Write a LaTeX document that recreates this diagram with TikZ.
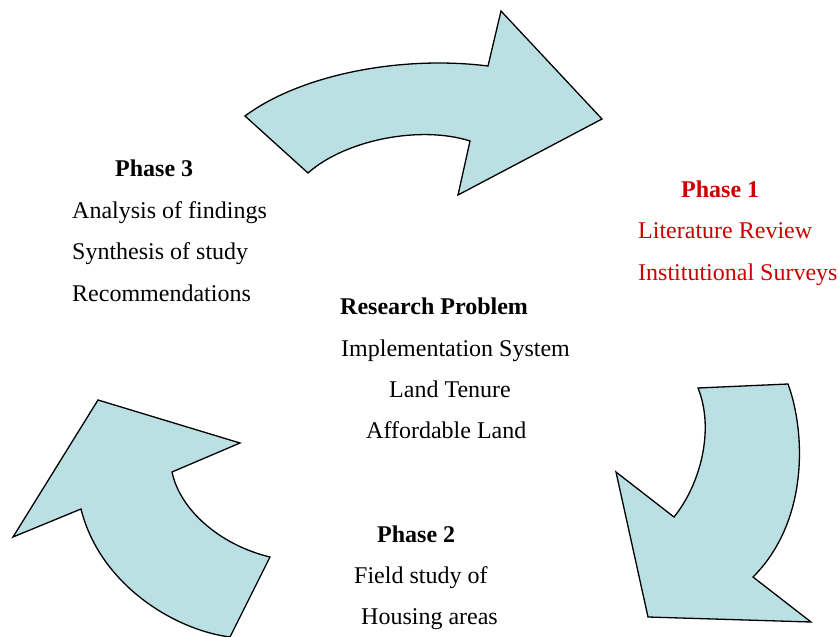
\documentclass[tikz,border=0pt]{standalone}
\usepackage{fontspec}
\setmainfont{Liberation Serif}
\begin{document}
\begin{tikzpicture}[x=1pt,y=-1pt,
  bigarrow/.style={draw=black,fill=arrowfill,line width=1.3pt,line join=miter},
  txt/.style={anchor=base west,inner sep=0pt,font=\fontsize{24}{28}\selectfont},
  head/.style={txt,font=\fontsize{24}{28}\selectfont\bfseries}]
\definecolor{arrowfill}{RGB}{187,224,228}
\definecolor{phaseone}{RGB}{204,0,0}
\useasboundingbox (0,0) rectangle (838,637);

% upper arrow: Phase 3 -> Phase 1
\draw[bigarrow] (245,116) .. controls (300,75) and (400,55) .. (488,66)
  -- (501,11) -- (602,119) -- (458,195) -- (470,141)
  .. controls (420,125) and (345,140) .. (308,173) -- cycle;

% right arrow: Phase 1 -> Phase 2
\draw[bigarrow] (698,388) -- (788,384)
  .. controls (805,430) and (810,520) .. (753,577)
  -- (811,622) -- (648,617) -- (616,472) -- (674,517)
  .. controls (700,485) and (715,430) .. (698,388) -- cycle;

% left arrow: Phase 2 -> Phase 3
\draw[bigarrow] (98,400) -- (240,443) -- (172,472)
  .. controls (180,510) and (220,545) .. (270,557)
  -- (230,637)
  .. controls (175,630) and (100,585) .. (81,509)
  -- (13,537) -- cycle;

% Phase 3
\node[head] (p3) at (115,176) {Phase 3};
\node[txt] (p3a) at (72,218) {Analysis of findings};
\node[txt] (p3b) at (72,259) {Synthesis of study};
\node[txt] (p3c) at (72,301) {Recommendations};

% Phase 1
\node[head,text=phaseone] (p1) at (681,197) {Phase 1};
\node[txt,text=phaseone] (p1a) at (638,238) {Literature Review};
\node[txt,text=phaseone] (p1b) at (638,280) {Institutional Surveys};

% Research problem
\node[head] (rp) at (340,314) {Research Problem};
\node[txt] (rpa) at (341,356) {Implementation System};
\node[txt] (rpb) at (389,397) {Land Tenure};
\node[txt] (rpc) at (366,438) {Affordable Land};

% Phase 2
\node[head] (p2) at (377,542) {Phase 2};
\node[txt] (p2a) at (354,583) {Field study of};
\node[txt] (p2b) at (361,624) {Housing areas};
\end{tikzpicture}
\end{document}
